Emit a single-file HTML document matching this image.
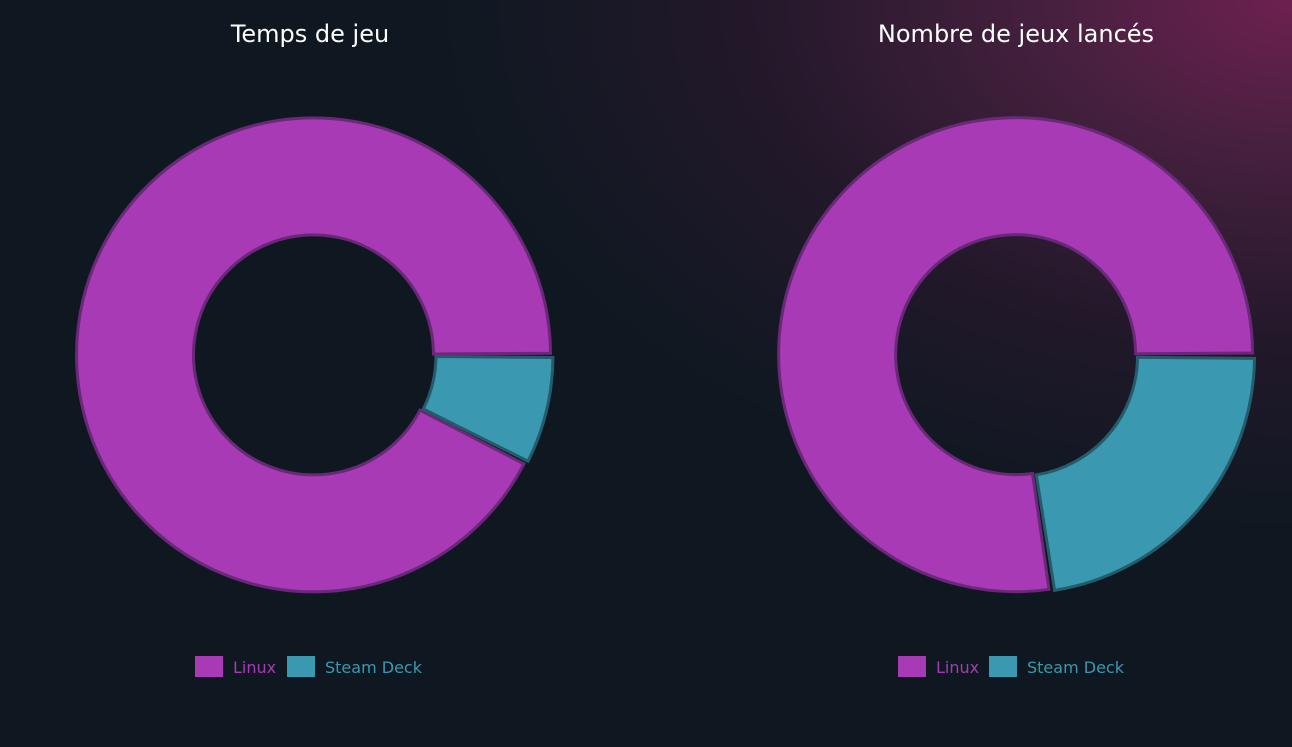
<!DOCTYPE html>
<html><head><meta charset="utf-8"><style>
html,body{margin:0;padding:0;width:1292px;height:747px;overflow:hidden;background:#0f1821;font-family:"DejaVu Sans","Liberation Sans",sans-serif}
.bg{position:absolute;left:0;top:0;width:1292px;height:747px;background:radial-gradient(ellipse 1000px 620px at 1292px 0px,#6e2050 0%,#45203e 25%,#22182a 55%,rgba(15,24,33,0) 85%)}
svg{position:absolute;left:0;top:0}
</style></head><body>
<div class="bg"></div>
<svg width="1292" height="747" xmlns="http://www.w3.org/2000/svg">
<g id="g"></g>
<text x="310" y="42" fill="#fff" font-size="24" text-anchor="middle" font-family="DejaVu Sans, Liberation Sans, sans-serif">Temps de jeu</text>
<text x="1016" y="42" fill="#fff" font-size="24" text-anchor="middle" font-family="DejaVu Sans, Liberation Sans, sans-serif">Nombre de jeux lancés</text>
<rect x="195" y="656" width="28" height="21" fill="#a83ab5"/>
<text x="233" y="673" fill="#a83ab5" font-size="16">Linux</text>
<rect x="287" y="656" width="28" height="21" fill="#3a98b0"/>
<text x="325" y="673" fill="#3a98b0" font-size="16">Steam Deck</text>
<rect x="898" y="656" width="28" height="21" fill="#a83ab5"/>
<text x="936" y="673" fill="#a83ab5" font-size="16">Linux</text>
<rect x="989" y="656" width="28" height="21" fill="#3a98b0"/>
<text x="1027" y="673" fill="#3a98b0" font-size="16">Steam Deck</text>
</svg>
<script>
function arc(cx,cy,R,r,a0,a1,off){
  var m=(a0+a1)/2*Math.PI/180;cx+=Math.cos(m)*off;cy+=Math.sin(m)*off;
  var A=a0*Math.PI/180,B=a1*Math.PI/180,l=(a1-a0)>180?1:0;
  function p(rr,a){return (cx+rr*Math.cos(a)).toFixed(2)+' '+(cy+rr*Math.sin(a)).toFixed(2)}
  return 'M'+p(R,A)+' A'+R+' '+R+' 0 '+l+' 1 '+p(R,B)+' L'+p(r,B)+' A'+r+' '+r+' 0 '+l+' 0 '+p(r,A)+'Z';
}
var g=document.getElementById('g'),h='';
function donut(cx,deg){
  h+='<path d="'+arc(cx,355,237,120,deg+0.4,359.6,0.5)+'" fill="#a83ab5" stroke="#6a2878" stroke-width="3"/>';
  h+='<path d="'+arc(cx,355,237,120,0.5,deg-0.5,2)+'" fill="#3a98b0" stroke="#245c6c" stroke-width="3"/>';
}
donut(314,27);donut(1016,81.5);
g.innerHTML=h;
</script>
</body></html>
